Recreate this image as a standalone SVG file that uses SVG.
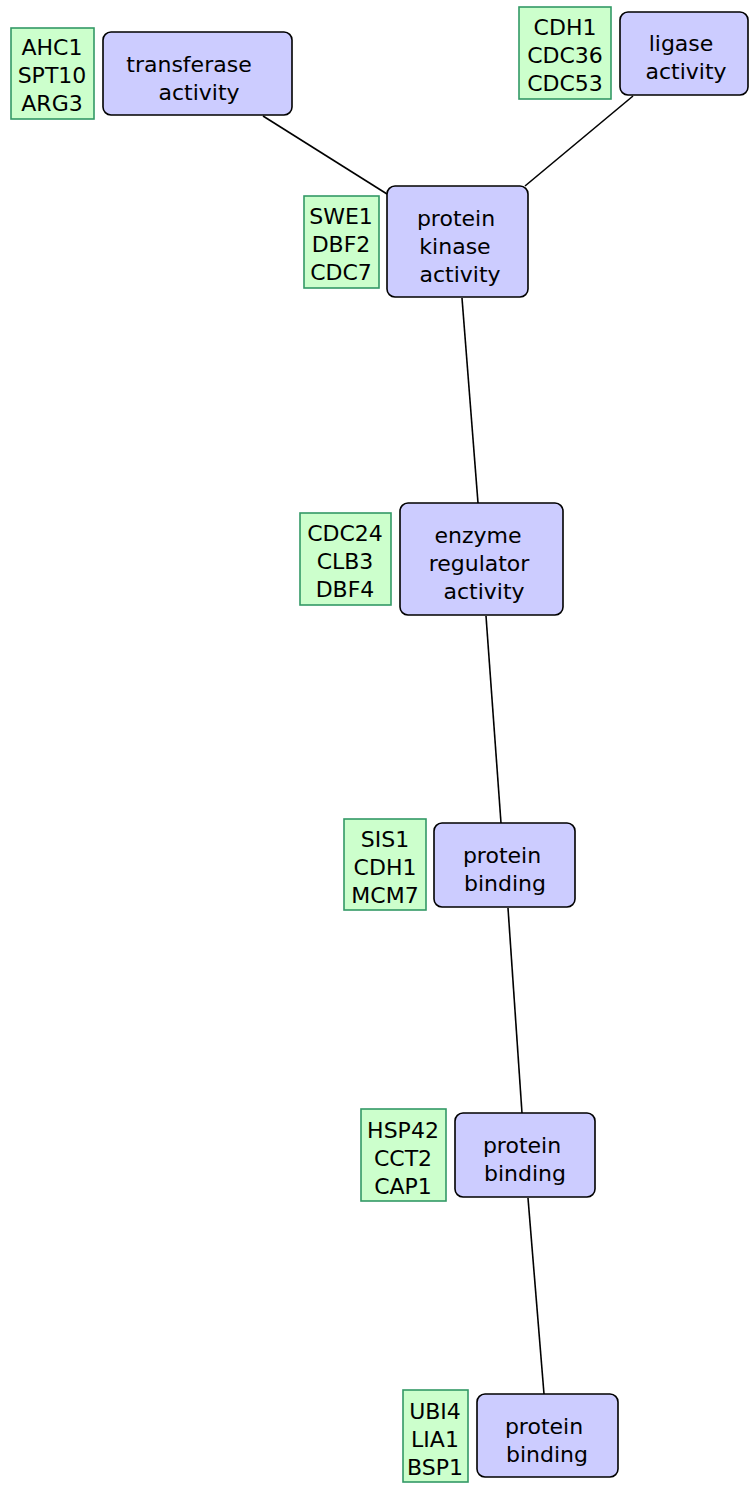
<svg xmlns="http://www.w3.org/2000/svg" width="750" height="1487" viewBox="0 0 750 1487">
<style>
.go{fill:#ccccff;stroke:#000;stroke-width:1.6}
.gn{fill:#ccffcc;stroke:#339966;stroke-width:1.6}
text{font-family:"DejaVu Sans",sans-serif;font-size:22px;fill:#000;text-anchor:middle}
.e{stroke:#000;stroke-width:1.6;fill:none}
</style>
<rect width="750" height="1487" fill="#fff"/>
<g id="edges">
<line class="e" x1="263" y1="116" x2="387" y2="194"/>
<line class="e" x1="633" y1="96" x2="525" y2="186"/>
<line class="e" x1="462" y1="298" x2="478" y2="503"/>
<line class="e" x1="486" y1="616" x2="501" y2="823"/>
<line class="e" x1="508" y1="908" x2="522" y2="1113"/>
<line class="e" x1="528" y1="1198" x2="544" y2="1394"/>
</g>
<g id="n1"><rect class="gn" x="11" y="28" width="83" height="91"/><text x="52" y="55">AHC1</text><text x="52" y="83">SPT10</text><text x="52" y="111">ARG3</text></g>
<g id="n2"><rect class="go" x="103" y="32" width="189" height="83" rx="8"/><text x="189" y="72">transferase</text><text x="199" y="100">activity</text></g>
<g id="n3"><rect class="gn" x="519" y="7" width="92" height="92"/><text x="565" y="35">CDH1</text><text x="565" y="63">CDC36</text><text x="565" y="91">CDC53</text></g>
<g id="n4"><rect class="go" x="620" y="12" width="128" height="83" rx="8"/><text x="681" y="51">ligase</text><text x="686" y="79">activity</text></g>
<g id="n5"><rect class="gn" x="304" y="196" width="75" height="92"/><text x="341" y="224">SWE1</text><text x="341" y="252">DBF2</text><text x="341" y="280">CDC7</text></g>
<g id="n6"><rect class="go" x="387" y="186" width="141" height="111" rx="8"/><text x="456" y="226">protein</text><text x="455" y="254">kinase</text><text x="460" y="282">activity</text></g>
<g id="n7"><rect class="gn" x="300" y="513" width="91" height="92"/><text x="345" y="541">CDC24</text><text x="345" y="569">CLB3</text><text x="345" y="597">DBF4</text></g>
<g id="n8"><rect class="go" x="400" y="503" width="163" height="112" rx="8"/><text x="478" y="543">enzyme</text><text x="479" y="571">regulator</text><text x="484" y="599">activity</text></g>
<g id="n9"><rect class="gn" x="344" y="819" width="82" height="91"/><text x="385" y="847">SIS1</text><text x="385" y="875">CDH1</text><text x="385" y="903">MCM7</text></g>
<g id="n10"><rect class="go" x="434" y="823" width="141" height="84" rx="8"/><text x="502" y="863">protein</text><text x="505" y="891">binding</text></g>
<g id="n11"><rect class="gn" x="361" y="1109" width="85" height="92"/><text x="403" y="1138">HSP42</text><text x="403" y="1166">CCT2</text><text x="403" y="1194">CAP1</text></g>
<g id="n12"><rect class="go" x="455" y="1113" width="140" height="84" rx="8"/><text x="522" y="1153">protein</text><text x="525" y="1181">binding</text></g>
<g id="n13"><rect class="gn" x="403" y="1390" width="65" height="92"/><text x="435" y="1419">UBI4</text><text x="435" y="1447">LIA1</text><text x="435" y="1475">BSP1</text></g>
<g id="n14"><rect class="go" x="477" y="1394" width="141" height="83" rx="8"/><text x="544" y="1434">protein</text><text x="547" y="1462">binding</text></g>
</svg>
